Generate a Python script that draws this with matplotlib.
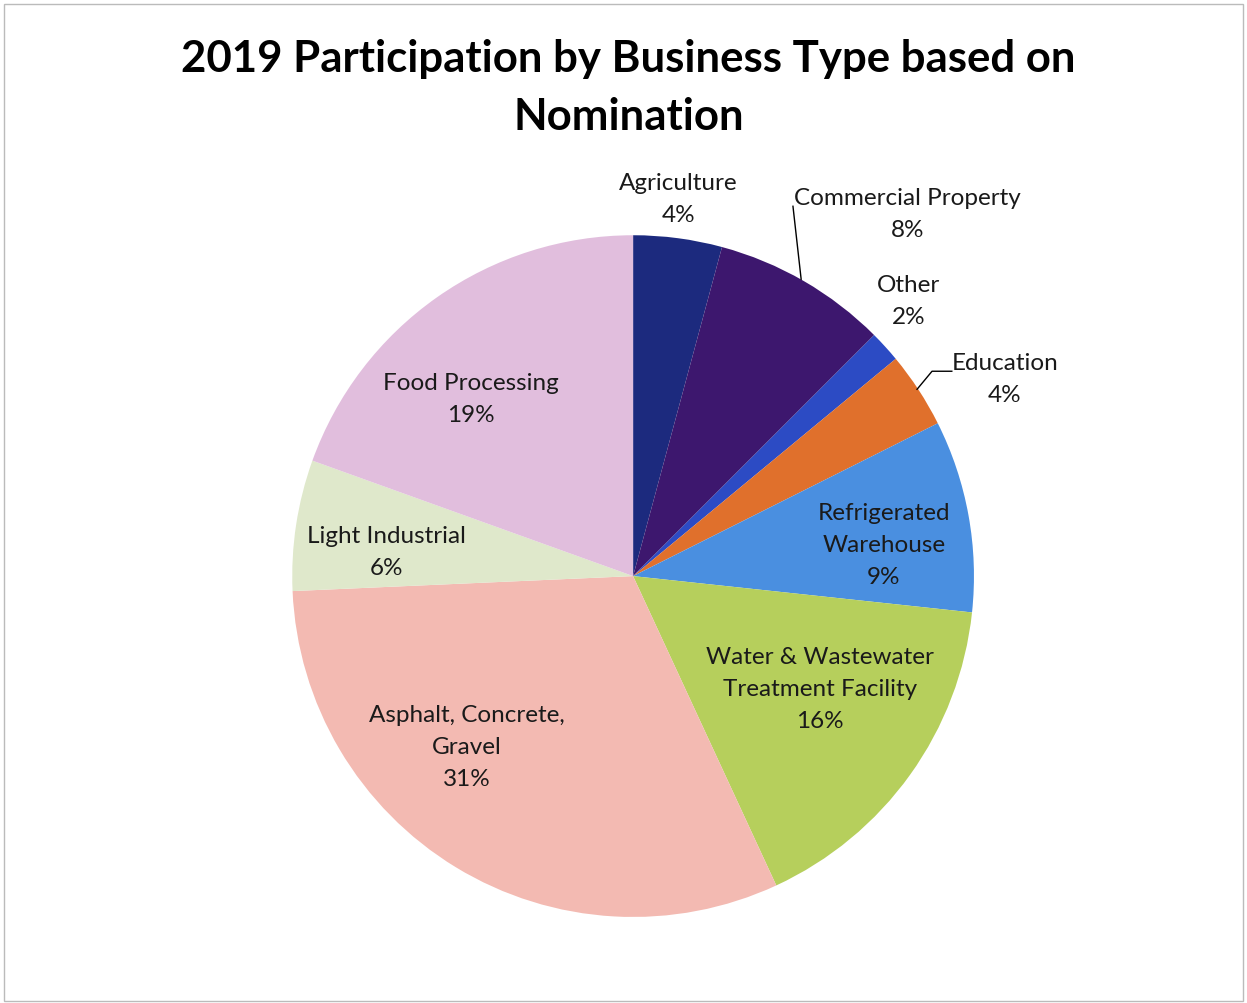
import matplotlib.pyplot as plt
from matplotlib.patches import Rectangle

categories = ["Agriculture", "Commercial Property", "Other", "Education",
              "Refrigerated\nWarehouse", "Water & Wastewater\nTreatment Facility",
              "Asphalt, Concrete,\nGravel", "Light Industrial", "Food Processing"]
shares = [4.2, 8.3, 1.5, 3.6, 9.1, 16.4, 31.2, 6.2, 19.5]
pct_labels = ["4%", "8%", "2%", "4%", "9%", "16%", "31%", "6%", "19%"]

colors = ["#1c2a7e", "#3d176e", "#2c4bc4", "#e0702c", "#4a8fe0",
          "#b6cf5c", "#f3bab2", "#dfe8cb", "#e1bedd"]

# label centres (pie radius = 1)
label_pos = [(0.132, 1.108), (0.806, 1.065), (0.809, 0.809), (1.091, 0.581),
             (0.736, 0.094), (0.548, -0.331), (-0.487, -0.501),
             (-0.724, 0.073), (-0.475, 0.522)]

plt.rcParams['font.family'] = ['Lato', 'DejaVu Sans']

fig = plt.figure(figsize=(12.47, 10.04), dpi=100)
fig.patches.append(Rectangle((0.003, 0.002), 0.994, 0.993, transform=fig.transFigure,
                             fill=False, edgecolor="#bbbbbb", linewidth=1))

ax = fig.add_axes([0.2342, 0.0857, 0.547, 0.679])
ax.pie(shares, colors=colors, startangle=90, counterclock=False, radius=1,
       wedgeprops=dict(linewidth=0))
ax.set_xlim(-1, 1)
ax.set_ylim(-1, 1)
ax.set_aspect('equal')
ax.axis('off')

for name, pct, (x, y) in zip(categories, pct_labels, label_pos):
    ax.text(x, y, name + "\n" + pct, ha='center', va='center', fontsize=17.5,
            linespacing=1.65, color="#1a1a1a", clip_on=False)

# leader lines
ax.plot([0.469, 0.493], [1.085, 0.871], color="black", lw=1, clip_on=False)
ax.plot([0.935, 0.877, 0.833], [0.601, 0.601, 0.548], color="black", lw=1, clip_on=False)

fig.text(0.504, 0.912, "2019 Participation by Business Type based on\nNomination",
         ha='center', va='center', fontsize=31.5, fontweight='bold', linespacing=1.55)

fig.savefig("out.png", dpi=100)
